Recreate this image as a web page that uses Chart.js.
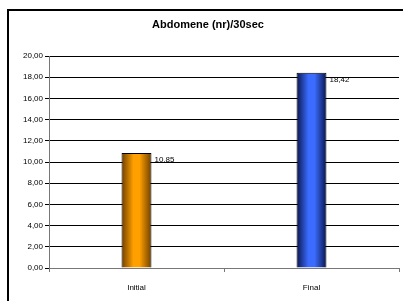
<!DOCTYPE html>
<html>
<head>
<meta charset="utf-8">
<script src="https://cdn.jsdelivr.net/npm/chart.js@4/dist/chart.umd.min.js"></script>
<style>
  html, body { margin: 0; padding: 0; background: #fff; overflow: hidden; }
  #wrap { position: relative; width: 403px; height: 301px; }
  #frame { position: absolute; left: 7px; top: 9px; width: 420px; height: 320px; border: 2px solid #000; box-sizing: border-box; }
  canvas { position: absolute; left: 0; top: 0; }
</style>
</head>
<body>
<div id="wrap">
  <div id="frame"></div>
  <canvas id="myChart" width="403" height="301"></canvas>
</div>
<script>
// chart data
var categories = ['Initial', 'Final'];
var values = [10.85, 18.42];
var chartTitle = 'Abdomene (nr)/30sec';
var yMin = 0, yMax = 20, yStep = 2;

// colours of the cylinder-like bars: edge, centre
var barColors = [['#6e3f00', '#ffa000'], ['#08154d', '#3c6cff']];

function fmt(v) {
    return v.toFixed(2).replace('.', ',');
}

function barFill(context) {
    var chart = context.chart;
    var x = chart.scales.x;
    if (!x || !chart.chartArea) return barColors[context.dataIndex][1];
    var cx = x.getPixelForValue(context.dataIndex);
    var half = 15;
    var c = barColors[context.dataIndex];
    var g = chart.ctx.createLinearGradient(cx - half, 0, cx + half, 0);
    g.addColorStop(0, c[0]);
    g.addColorStop(0.4, c[1]);
    g.addColorStop(0.6, c[1]);
    g.addColorStop(1, c[0]);
    return g;
}

// title + value labels, drawn the Excel way
var extras = {
    id: 'extras',
    afterDraw: function (chart) {
        var ctx = chart.ctx;
        ctx.save();
        ctx.fillStyle = '#000';
        ctx.font = 'bold 11px "Liberation Sans", Arial, sans-serif';
        ctx.textAlign = 'center';
        ctx.textBaseline = 'middle';
        ctx.fillText(chartTitle, 208, 25);

        ctx.font = '8px "Liberation Sans", Arial, sans-serif';
        ctx.textAlign = 'left';
        chart.getDatasetMeta(0).data.forEach(function (bar, i) {
            ctx.fillText(fmt(values[i]), bar.x + bar.width / 2 + 3, bar.y + 7);
        });
        ctx.restore();
    }
};

new Chart('myChart', {
    type: 'bar',
    data: {
        labels: categories,
        datasets: [{
            data: values,
            backgroundColor: barFill,
            borderColor: '#000',
            borderWidth: 1,
            barPercentage: 1,
            categoryPercentage: 0.171
        }]
    },
    options: {
        responsive: false,
        animation: false,
        layout: { padding: { top: 56, right: 4, left: 0, bottom: 0 } },
        plugins: {
            legend: { display: false },
            title: { display: false },
            tooltip: { enabled: false }
        },
        scales: {
            x: {
                offset: true,
                grid: { offset: true, drawOnChartArea: false, tickLength: 4, color: '#777' },
                border: { color: '#777' },
                ticks: { color: '#000', font: { family: '"Liberation Sans", Arial, sans-serif', size: 8 }, padding: 11 },
                afterFit: function (s) { s.height = 33; }
            },
            y: {
                min: yMin,
                max: yMax,
                grid: { color: '#000', tickLength: 4 },
                border: { color: '#777' },
                ticks: {
                    stepSize: yStep,
                    color: '#000',
                    padding: 2,
                    font: { family: '"Liberation Sans", Arial, sans-serif', size: 8 },
                    callback: function (v) { return fmt(v); }
                },
                afterFit: function (s) { s.width = 49; }
            }
        }
    },
    plugins: [extras]
});
</script>
</body>
</html>
